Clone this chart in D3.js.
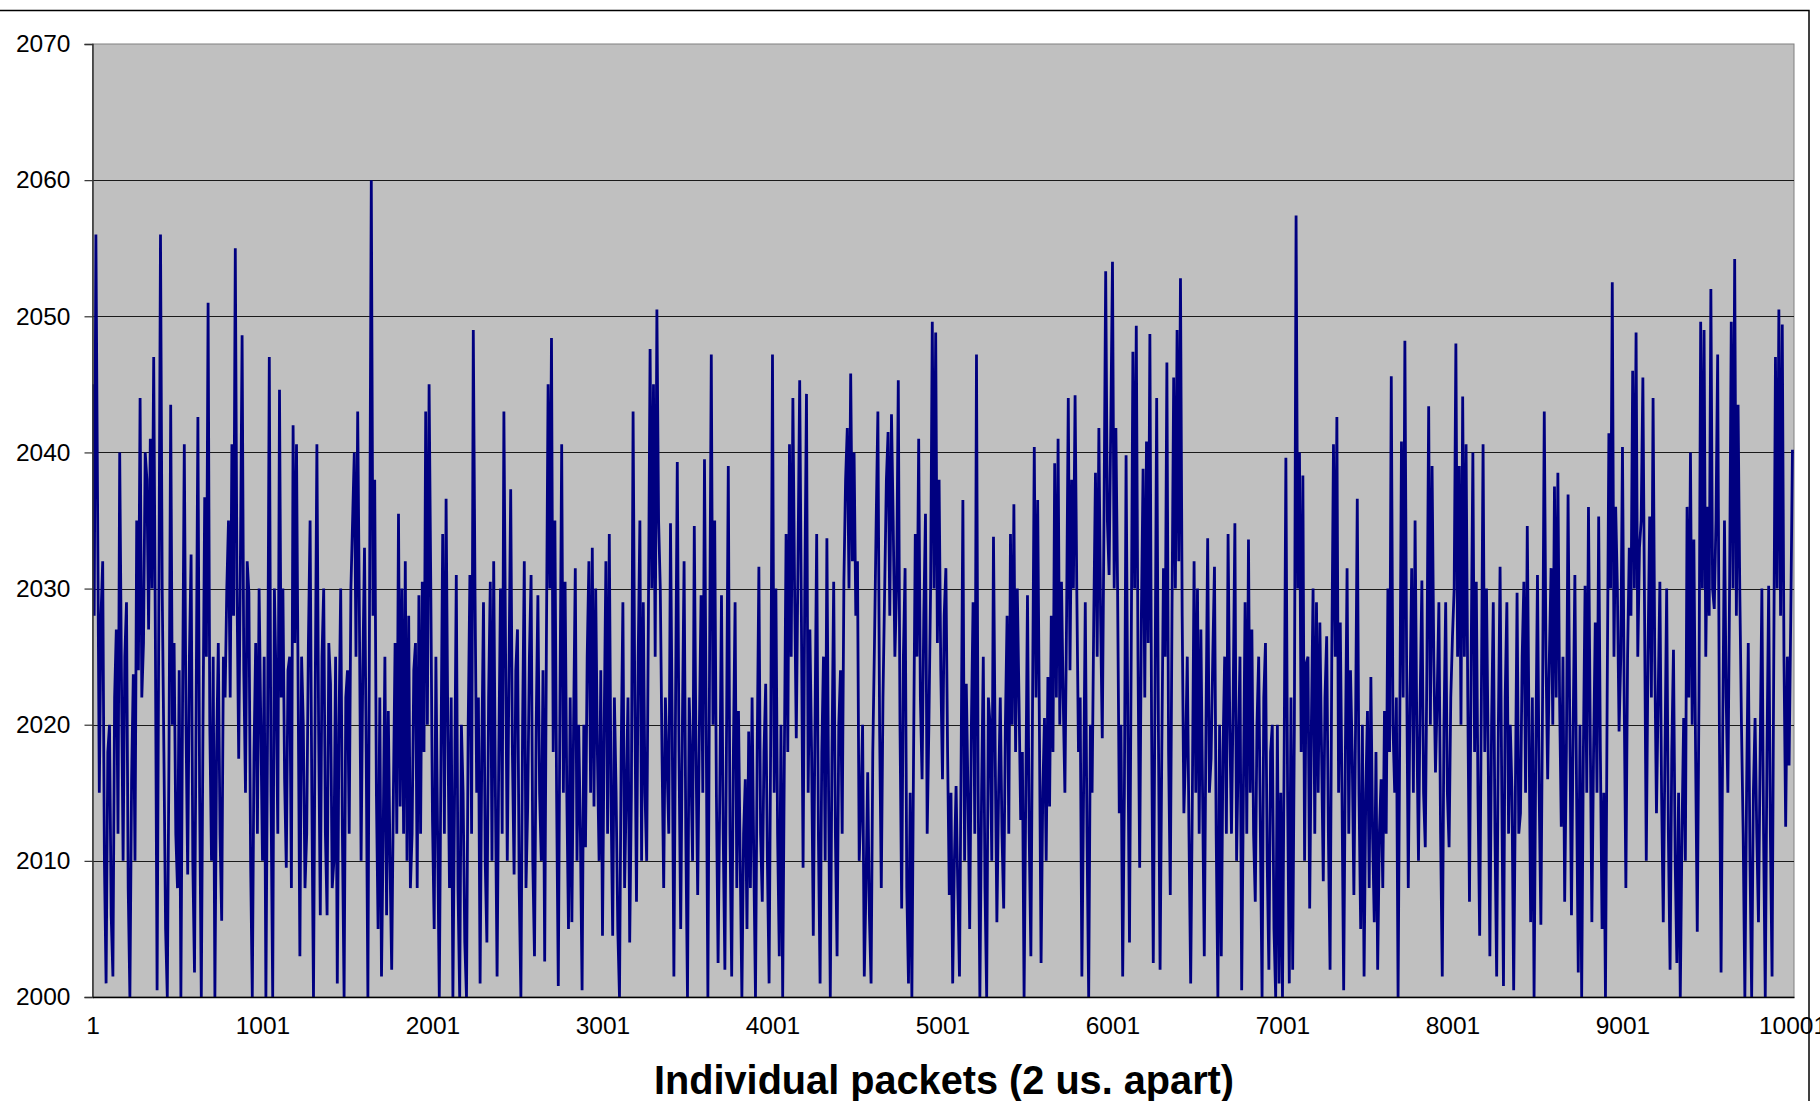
<!DOCTYPE html>
<html>
<head>
<meta charset="utf-8">
<script src="https://cdn.jsdelivr.net/npm/d3@7"></script>
<style>
  html, body { margin: 0; padding: 0; background: #ffffff; }
  svg { display: block; }
</style>
</head>
<body>
<svg id="chart" width="1820" height="1101"></svg>
<script>
// ---- data ----
// "delaySeg*": local extremes, one every 20 packets (packets 1, 21, 41, ...)
// "midSeg*":   the value between two of them (packets 11, 31, 51, ...)
const packetStart = 1;
const packetStep = 20;
const delaySeg1 = [2045,2056,2015,2032,2001,2020,2001.5,2027,2040,2010,
  2029,2000,2023.7,2035,2044,2026,2038,2041,2047,2000.5,
  2056,2018,2000,2043.5,2026,2008,2000,2040.6,2009,2032.5,
  2001.8,2042.6,2000,2036.7,2051,2010,2000,2026,2005.6,2022,
  2035,2040.6,2055,2017.5,2048.6,2015,2029.7,2000,2026,2030,
  2010,2000,2047,2000,2023,2044.6,2030,2009.5,2025,2042,
  2040.6,2003,2020,2012,2035,2000,2040.6,2006,2030,2006,
  2023,2010,2001,2030,2000,2024,2030,2040,2043,2010,
  2033,2000,2060,2038];
const delaySeg2 = [2005,2001.5,2025,2021,2002,2026,2035.5,2030,2032,2028,
  2012,2026,2029.5,2030.5,2043,2045,2013,2025,2000,2034,
  2036.6,2008,2000,2031,2000,2015,2000,2031,2049,2015,
  2001,2029,2004,2030.5,2032,2001.5,2030,2043,2010,2037.3,
  2009,2027,2000,2032,2014,2031,2003,2029.5,2010,2002.6,
  2045,2048.4,2035,2000.8,2040.6,2030.5,2005,2005.5,2031.5,2020,
  2000.5,2011,2032,2033,2030,2010,2004.5,2032,2034,2004.5,
  2015,2000,2029,2015,2004,2043,2007,2035,2029,2010,
  2047.6,2045,2050.5];
const delaySeg3 = [2030,2008,2017,2034.8,2001.5,2039.3,2005,2032,2000,2017,
  2034.6,2007.5,2029.5,2039.5,2000,2047.2,2035,2002.5,2029.5,2002,
  2039,2001.5,2029,2021,2000,2016,2019.5,2022,2000,2031.6,
  2007,2023,2001,2047.2,2030,2003,2000,2034,2040.6,2044,
  2019,2045.3,2009.5,2044.3,2027,2004.5,2034,2001,2025,2033.7,
  2000,2030.5,2003,2024,2030.5,2041.8,2045.8,2040,2032,2014,
  2001.5,2016.5,2001,2026,2043,2008,2030,2041.5,2042.8,2025,
  2045.3,2006.5,2031.5,2001,2000,2034,2041,2016,2035.5,2020,
  2049.6,2048.8,2038,2016];
const delaySeg4 = [2031.5,2007.5,2001,2015.5,2001.5,2036.5,2023,2005,2029,2047.2,
  2000,2025,2000,2020,2033.8,2005.5,2022,2006.5,2028,2034,
  2036.2,2030,2013,2000,2029.5,2003,2040.4,2036.5,2002.5,2020.5,
  2023.5,2028,2039.2,2041,2030.5,2015,2044,2038,2044.2,2018,
  2001.5,2029,2000,2015,2038.5,2041.8,2019,2053.3,2031,2054,
  2041.8,2013.5,2001.5,2039.8,2004,2047.4,2049.3,2009.5,2038.8,2040.8,
  2048.7,2002.5,2044,2002,2031.5,2046.6,2007.5,2045.5,2049,2052.8,
  2013.5,2025,2001,2032,2030,2027,2003,2033.7,2017.5,2031.6,
  2000,2003,2025,2034];
const delaySeg5 = [2012,2034.8,2018,2000.5,2029,2033.6,2027,2007,2025,2000,
  2026,2002,2020,2000,2001,2000,2039.6,2001,2002,2057.4,
  2040,2038.3,2024.5,2006.5,2030,2029,2027.5,2008.5,2026.5,2002,
  2040.6,2042.6,2027.5,2000.5,2031.5,2024,2007.5,2036.6,2005,2001.5,
  2021,2023.5,2005.5,2002,2016,2021,2030,2045.6,2015,2000,
  2040.8,2048.2,2008,2031.5,2035,2010,2030.6,2011,2043.4,2039,
  2016.5,2029,2001.5,2029,2011,2026.5,2048,2039,2044.1,2040.6,
  2007,2040,2030.5,2004.5,2040.6,2030,2003,2029,2001.5,2031.6,
  2000.8,2029,2020];
const delaySeg6 = [2000.5,2029.7,2013.5,2030.5,2034.6,2005.5,2000,2031,2005.3,2043,
  2016,2031.5,2037.5,2038.5,2012.5,2007,2036.9,2006,2031,2001.8,
  2000,2030.2,2036,2005.5,2027.5,2035.3,2005,2000,2041.4,2052.5,
  2036,2019.5,2040.4,2008,2033,2046,2048.8,2033,2045.5,2010,
  2035.3,2044,2013.5,2030.5,2005.5,2030,2002,2025.5,2002.5,2000,
  2020.5,2036,2040,2033.6,2004.8,2049.6,2049,2036,2052,2028.5,
  2047.2,2001.8,2035,2015,2049.6,2054.2,2043.5,2020,2000,2026,
  2000,2020.5,2005.5,2030,2000,2030.2,2001.5,2047,2050.5,2049.4,
  2012.5,2017,2040.2];

const midSeg1 = [2028,2036,2028,2010,2018,2006,2022,2012,2024,2025,
  2008,2016,2010,2024,2022,2040,2027,2030,2026,2028,
  2030,2005,2018,2020,2012,2024,2022,2020,2025,2010,
  2022,2015,2020,2025,2020,2025,2018,2012,2025,2030,
  2022,2028,2030,2032,2024,2032,2010,2018,2012,2020,
  2025,2020,2015,2030,2012,2022,2016,2024,2008,2026,
  2022,2025,2008,2026,2015,2022,2020,2025,2012,2026,
  2008,2025,2020,2012,2022,2012,2035,2025,2028,2024,
  2018,2030,2028,2015];
const midSeg2 = [2022,2012,2006,2010,2015,2012,2014,2012,2010,2008,
  2024,2008,2012,2018,2020,2030,2005,2012,2018,2012,
  2020,2022,2015,2008,2020,2004,2020,2012,2030,2022,
  2018,2010,2022,2010,2015,2018,2012,2025,2024,2018,
  2024,2008,2020,2008,2025,2010,2020,2015,2024,2026,
  2030,2018,2015,2022,2015,2015,2022,2020,2010,2012,
  2020,2025,2015,2014,2018,2024,2020,2012,2015,2022,
  2005,2018,2008,2022,2015,2022,2025,2010,2015,2028,
  2030,2025,2035];
const midSeg3 = [2018,2022,2012,2020,2022,2018,2020,2012,2022,2010,
  2018,2020,2015,2020,2025,2020,2015,2015,2012,2020,
  2012,2018,2008,2010,2012,2005,2008,2010,2018,2012,
  2018,2010,2020,2015,2012,2020,2018,2018,2025,2030,
  2032,2028,2030,2015,2018,2020,2012,2018,2010,2015,
  2018,2012,2020,2012,2038,2030,2032,2028,2010,2020,
  2008,2006,2018,2035,2020,2022,2038,2028,2035,2030,
  2020,2025,2008,2015,2018,2025,2022,2028,2012,2030,
  2030,2026,2024,2028];
const midSeg4 = [2018,2015,2010,2008,2018,2010,2015,2020,2012,2015,
  2015,2008,2022,2010,2018,2015,2012,2020,2012,2020,
  2018,2022,2018,2015,2012,2022,2022,2020,2015,2010,
  2014,2018,2022,2020,2022,2028,2024,2030,2030,2022,
  2015,2012,2020,2028,2025,2028,2035,2035,2042,2030,
  2030,2020,2015,2020,2025,2030,2025,2028,2022,2026,
  2020,2022,2020,2018,2025,2018,2028,2030,2032,2028,
  2018,2012,2015,2015,2012,2015,2020,2015,2025,2012,
  2020,2018,2012,2020];
const midSeg5 = [2022,2010,2025,2015,2012,2015,2012,2020,2012,2022,
  2010,2018,2005,2020,2015,2018,2015,2022,2020,2030,
  2018,2010,2025,2020,2012,2015,2018,2022,2012,2025,
  2025,2015,2015,2018,2012,2018,2020,2015,2020,2015,
  2008,2012,2018,2012,2008,2012,2018,2020,2022,2020,
  2022,2025,2022,2015,2020,2022,2015,2025,2020,2025,
  2022,2012,2020,2015,2022,2030,2025,2020,2025,2022,
  2025,2018,2015,2022,2018,2018,2020,2012,2020,2015,
  2022,2012,2015];
const midSeg6 = [2015,2012,2025,2015,2020,2022,2018,2015,2022,2025,
  2025,2020,2022,2022,2025,2018,2020,2020,2015,2020,
  2018,2015,2020,2018,2015,2018,2015,2022,2030,2025,
  2030,2025,2022,2025,2028,2030,2025,2035,2028,2025,
  2022,2025,2022,2015,2018,2012,2018,2010,2015,2012,
  2010,2022,2020,2018,2022,2030,2025,2028,2030,2035,
  2020,2020,2022,2030,2030,2028,2030,2012,2015,2010,
  2015,2012,2018,2012,2018,2012,2025,2030,2028,2025,
  2025,2028];

const yTicks = [2000, 2010, 2020, 2030, 2040, 2050, 2060, 2070];
const xTickPackets = [1, 1001, 2001, 3001, 4001, 5001, 6001, 7001, 8001, 9001, 10001];
const xTitle = "Individual packets (2 us. apart)";

// ---- build ----
const delay = [].concat(delaySeg1, delaySeg2, delaySeg3, delaySeg4, delaySeg5, delaySeg6);
const mids = [].concat(midSeg1, midSeg2, midSeg3, midSeg4, midSeg5, midSeg6);
const series = [];
delay.forEach((v, i) => {
  series.push({ packet: packetStart + i * packetStep, value: v });
  if (i < mids.length) series.push({ packet: packetStart + i * packetStep + packetStep / 2, value: mids[i] });
});

const svg = d3.select("#chart");
const plotL = 92.5, plotR = 1794, plotT = 44, plotB = 997;

const x = d3.scaleLinear().domain([1, 10010]).range([plotL, plotR]);
const y = d3.scaleLinear().domain([2000, 2070]).range([plotB, plotT]);

// plot background
svg.append("rect")
  .attr("x", plotL).attr("y", plotT)
  .attr("width", plotR - plotL).attr("height", plotB - plotT)
  .attr("fill", "#c0c0c0")
  .attr("stroke", "#808080").attr("stroke-width", 1);

// gridlines
svg.append("g")
  .selectAll("line")
  .data(yTicks.filter(t => t > 2000 && t < 2070))
  .join("line")
  .attr("x1", plotL).attr("x2", plotR)
  .attr("y1", d => Math.round(y(d)) + 0.5).attr("y2", d => Math.round(y(d)) + 0.5)
  .attr("stroke", "#1a1a1a").attr("stroke-width", 1);

// clip
svg.append("clipPath").attr("id", "plotclip")
  .append("rect").attr("x", plotL).attr("y", plotT - 1)
  .attr("width", plotR - plotL).attr("height", plotB - plotT + 1);

// series line
const line = d3.line().x(d => x(d.packet)).y(d => y(d.value));
svg.append("path")
  .datum(series)
  .attr("clip-path", "url(#plotclip)")
  .attr("d", line)
  .attr("fill", "none")
  .attr("stroke", "#000080")
  .attr("stroke-width", 2.8)
  .attr("stroke-linejoin", "miter")
  .attr("stroke-miterlimit", 2);

// y axis
const yAxis = d3.axisLeft(y).tickValues(yTicks).tickSize(8).tickPadding(14).tickFormat(d3.format("d"));
const gy = svg.append("g").attr("transform", `translate(${plotL},0)`).call(yAxis);
gy.select(".domain").attr("stroke", "#333333").attr("stroke-width", 1.5);
gy.selectAll(".tick line").attr("stroke", "#333333").attr("stroke-width", 1.2);
gy.selectAll(".tick text")
  .attr("font-family", "'Liberation Sans', Arial, sans-serif")
  .attr("font-size", 24.5).attr("fill", "#000");

// x axis
const xAxis = d3.axisBottom(x).tickValues(xTickPackets).tickSize(0).tickPadding(20).tickFormat(d3.format("d"));
const gx = svg.append("g").attr("transform", `translate(0,${plotB})`).call(xAxis);
gx.select(".domain").attr("stroke", "#000").attr("stroke-width", 1.5);
gx.selectAll(".tick text")
  .attr("font-family", "'Liberation Sans', Arial, sans-serif")
  .attr("font-size", 24.5).attr("fill", "#000");

// x axis title
svg.append("text")
  .attr("x", 944).attr("y", 1094)
  .attr("text-anchor", "middle")
  .attr("font-family", "'Liberation Sans Narrow', 'Arial Narrow', 'Liberation Sans', Arial, sans-serif")
  .attr("font-weight", "bold")
  .attr("font-size", 40)
  .attr("textLength", 580)
  .attr("lengthAdjust", "spacingAndGlyphs")
  .attr("fill", "#000")
  .text(xTitle);

// outer chart frame
svg.append("rect")
  .attr("x", -2).attr("y", 10.5)
  .attr("width", 1809 + 2).attr("height", 1101)
  .attr("fill", "none")
  .attr("stroke", "#000").attr("stroke-width", 1.5);
</script>
</body>
</html>
